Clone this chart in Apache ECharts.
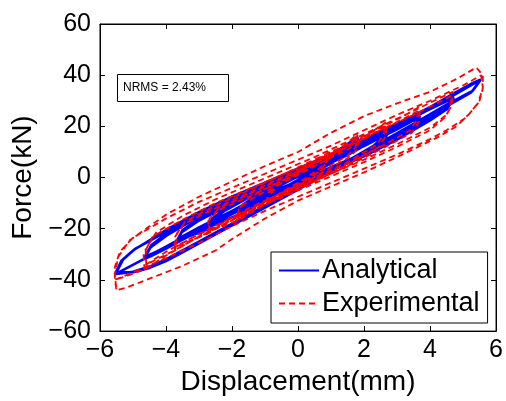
<!DOCTYPE html>
<html>
<head>
<meta charset="utf-8">
<script src="https://cdn.jsdelivr.net/npm/echarts@6/dist/echarts.min.js"></script>
<style>
html,body{margin:0;padding:0;background:#fff;}
#chart{width:506px;height:401px;}
</style>
</head>
<body>
<div id="chart"></div>
<script>
// ---- data (displacement mm, force kN) ----
var xTicks = [-6, -4, -2, 0, 2, 4, 6];
var yTicks = [-60, -40, -20, 0, 20, 40, 60];
var nrmsText = 'NRMS = 2.43%';

// Analytical loops (two cycles per amplitude)
var anLoop1 = [[-0.9,-7],[-0.8,-5.2],[-0.5,-2.6],[0,0.8],[0.4,3.8],[0.7,6.2],[0.85,7.8],
  [0.75,5.6],[0.4,2.4],[0,-1.2],[-0.4,-4.0],[-0.7,-5.9],[-0.9,-7]];
var anLoop1b = [[-0.92,-7.5],[-0.82,-5.5],[-0.5,-2.9],[0,0.5],[0.4,3.5],[0.7,6.0],[0.88,8.2],
  [0.78,5.9],[0.4,2.7],[0,-0.9],[-0.4,-3.7],[-0.72,-6.2],[-0.92,-7.5]];
var anLoop2 = [[-1.78,-13.5],[-1.65,-10.5],[-1.2,-6.5],[-0.5,-1.5],[0,1.8],[0.6,5.8],[1.2,10.5],[1.6,14],[1.8,16],
  [1.68,12.5],[1.3,8.5],[0.6,3.2],[0,-1.5],[-0.6,-5.5],[-1.2,-9.5],[-1.6,-12.3],[-1.78,-13.5]];
var anLoop2b = [[-1.8,-14.5],[-1.68,-11.3],[-1.2,-7.2],[-0.5,-2.2],[0,1.2],[0.6,5.2],[1.2,10],[1.6,13.5],[1.82,15.5],
  [1.7,12],[1.3,8],[0.6,2.6],[0,-2.2],[-0.6,-6.2],[-1.2,-10.3],[-1.6,-13.2],[-1.8,-14.5]];
var anLoop3 = [[-2.73,-19.5],[-2.6,-16],[-2.2,-12],[-1.5,-7],[-0.5,-1.5],[0.5,3.5],[1.5,9.5],[2.2,14.5],[2.6,18],[2.77,20],
  [2.65,16.5],[2.3,12.5],[1.5,6.5],[0.5,1],[-0.5,-4],[-1.5,-9.5],[-2.2,-14.5],[-2.6,-18],[-2.73,-19.5]];
var anLoop3b = [[-2.75,-20.3],[-2.62,-16.8],[-2.2,-12.8],[-1.5,-7.8],[-0.5,-2.2],[0.5,2.8],[1.5,8.8],[2.2,13.8],[2.6,17.3],[2.78,19.3],
  [2.66,15.8],[2.3,11.8],[1.5,5.8],[0.5,0.3],[-0.5,-4.8],[-1.5,-10.3],[-2.2,-15.3],[-2.6,-18.8],[-2.75,-20.3]];
var anLoop4 = [[-3.67,-24.7],[-3.5,-20.5],[-3.0,-16],[-2,-9.5],[-1,-4],[0,1.5],[1,7],[2,13],[3,19.5],[3.5,23],[3.67,24.7],
  [3.5,20.5],[3.0,16],[2,9.5],[1,4],[0,-1.5],[-1,-7],[-2,-13],[-3,-19.5],[-3.5,-23],[-3.67,-24.7]];
var anLoop4b = [[-3.7,-25.5],[-3.52,-21.3],[-3.0,-16.8],[-2,-10.2],[-1,-4.7],[0,0.8],[1,6.3],[2,12.3],[3,18.8],[3.5,22.3],[3.7,24],
  [3.52,19.8],[3.0,15.3],[2,8.8],[1,3.3],[0,-2.2],[-1,-7.8],[-2,-13.8],[-3,-20.3],[-3.5,-23.8],[-3.7,-25.5]];
var anLoop5 = [[-4.64,-31],[-4.45,-26.5],[-4,-22],[-3,-14.5],[-2,-8.5],[-1,-3],[0,2.5],[1,8],[2,14],[3,20.5],[4,27.5],[4.5,30.5],[4.7,32],
  [4.5,27.5],[4,23],[3,15.5],[2,9],[1,3.5],[0,-2],[-1,-7.5],[-2,-13.5],[-3,-20],[-4,-27],[-4.45,-30],[-4.64,-31]];
var anLoop5b = [[-4.66,-31.8],[-4.47,-27.3],[-4,-22.8],[-3,-15.2],[-2,-9.2],[-1,-3.7],[0,1.8],[1,7.3],[2,13.3],[3,19.8],[4,26.8],[4.5,29.8],[4.72,31.3],
  [4.52,26.8],[4,22.3],[3,14.8],[2,8.3],[1,2.8],[0,-2.7],[-1,-8.3],[-2,-14.3],[-3,-20.8],[-4,-27.8],[-4.47,-30.8],[-4.66,-31.8]];
var anLoop6 = [[-5.55,-37.8],[-5.35,-32.5],[-5,-28.5],[-4,-20.5],[-3,-13.5],[-2,-7.5],[-1,-2],[0,3.5],[1,9],[2,15],[3,21],[4,27.5],[4.8,33.5],[5.3,37],[5.54,38.3],
  [5.3,34],[4.5,28.5],[3.5,21],[2.4,13],[1,3],[0,-4],[-1,-11],[-2,-18],[-3,-25],[-3.5,-28.5],[-4,-32],[-4.5,-34.8],[-5,-36.8],[-5.55,-37.8]];
var anLoop6b = [[-5.5,-37],[-5.3,-32],[-4.95,-28],[-4,-21.2],[-3,-14.2],[-2,-8.2],[-1,-2.7],[0,2.8],[1,8.3],[2,14.3],[3,20.3],[4,26.8],[4.8,32.8],[5.3,36.5],[5.5,37.6],
  [5.25,33.3],[4.5,27.8],[3.5,20.3],[2.4,12.3],[1,2.3],[0,-4.7],[-1,-11.7],[-2,-18.7],[-3,-25.7],[-3.5,-29.2],[-4,-32.6],[-4.5,-35.3],[-5,-37],[-5.5,-37]];

// Experimental loops
var exLoop1 = [[-0.9,-10],[-0.85,-6.5],[-0.6,-3],[-0.2,0.5],[0.2,3.5],[0.6,6.5],[0.9,9],
  [0.85,5.5],[0.6,2],[0.2,-1.5],[-0.2,-4.5],[-0.6,-7.5],[-0.9,-10]];
var exLoop1b = [[-0.95,-9],[-0.9,-6],[-0.6,-2.5],[-0.2,1],[0.2,4],[0.6,7],[0.95,10],
  [0.9,6.5],[0.6,3],[0.2,-0.5],[-0.2,-3.5],[-0.6,-6.5],[-0.95,-9]];
var exLoop2 = [[-1.8,-16],[-1.75,-11.5],[-1.5,-8],[-1,-4.5],[0,2],[0.8,7.5],[1.4,12.5],[1.8,17],
  [1.75,12],[1.5,8.5],[1,5],[0,-2.5],[-0.8,-8],[-1.4,-12.5],[-1.8,-16]];
var exLoop2b = [[-1.85,-17],[-1.8,-12.5],[-1.5,-9],[-1,-5.5],[0,1],[0.8,6.5],[1.4,11.5],[1.85,16],
  [1.8,11],[1.5,7.5],[1,4],[0,-3.5],[-0.8,-9],[-1.4,-13.5],[-1.85,-17]];
var exLoop3 = [[-2.7,-21],[-2.68,-16],[-2.4,-12],[-1.5,-6.5],[-0.5,-0.5],[0.5,5.5],[1.5,12],[2.2,17.5],[2.65,21.5],
  [2.6,17],[2.4,13],[1.5,6],[0.5,0],[-0.5,-6],[-1.5,-12],[-2.2,-17],[-2.7,-21]];
var exLoop3b = [[-2.75,-22],[-2.72,-17],[-2.45,-13],[-1.5,-7.5],[-0.5,-1.5],[0.5,4.5],[1.5,11],[2.2,16.5],[2.7,20.5],
  [2.65,16],[2.45,12],[1.5,5],[0.5,-1],[-0.5,-7],[-1.5,-13],[-2.2,-18],[-2.75,-22]];
var exLoop4 = [[-3.7,-27],[-3.68,-22],[-3.4,-17],[-2.5,-11],[-1.5,-5],[-0.5,1],[0.5,7],[1.5,13],[2.5,19.5],[3.2,24],[3.65,27.5],
  [3.6,22.5],[3.4,18.5],[2.5,12],[1.5,5.5],[0.5,-0.5],[-0.5,-6.5],[-1.5,-12.5],[-2.5,-19],[-3.2,-23.5],[-3.7,-27]];
var exLoop4b = [[-3.75,-28.5],[-3.72,-23],[-3.45,-18],[-2.5,-12],[-1.5,-6],[-0.5,0],[0.5,6],[1.5,12],[2.5,18.5],[3.2,23],[3.7,26.5],
  [3.65,21.5],[3.45,17.5],[2.5,11],[1.5,4.5],[0.5,-1.5],[-0.5,-7.5],[-1.5,-13.5],[-2.5,-20],[-3.2,-24.5],[-3.75,-28.5]];
var exLoop5 = [[-4.6,-34],[-4.62,-28],[-4.3,-21.5],[-3.5,-15],[-2.5,-8.5],[-1.5,-3],[-0.5,2.5],[0.5,8],[1.5,14],[2.5,20],[3.5,26],[4.2,30.5],[4.7,33.5],
  [4.65,28],[4.5,24.5],[4,19.5],[3,13],[2,7],[1,1.5],[0,-4],[-1,-9.5],[-2,-15.5],[-3,-22],[-4,-29],[-4.6,-34]];
var exLoop5b = [[-4.65,-36],[-4.68,-30],[-4.4,-23],[-3.5,-16.5],[-2.5,-10],[-1.5,-4.5],[-0.5,1],[0.5,6.5],[1.5,12.5],[2.5,18.5],[3.5,24.5],[4.2,29],[4.65,32],
  [4.6,27],[4.45,23.5],[4,18.5],[3,12],[2,6],[1,0.5],[0,-5],[-1,-10.5],[-2,-16.5],[-3,-23],[-4,-30.5],[-4.65,-36]];
var exLoop6a = [[-5.55,-40],[-5.55,-35],[-5.4,-29],[-5,-23.5],[-4,-16],[-3,-9.5],[-2,-4],[-1,1.5],[0,7],[1,12.5],[2,18.5],[3,24.5],[4,30],[5,36],[5.55,40],
  [5.6,35],[5.45,29],[5.1,23.5],[4.5,18.5],[4,15],[3,9],[2,3.5],[1,-2],[0,-7.5],[-1,-13],[-2,-19],[-3,-25.5],[-4,-31.5],[-5,-37],[-5.55,-40]];
var exLoop6b = [[-5.5,-44],[-5.55,-38],[-5.45,-31],[-5.1,-24.5],[-4.5,-19],[-4,-14.5],[-3,-7.5],[-2,-1.5],[-1,4.5],[0,10],[1,17.5],[2,24],[3,29],[4,33.5],[4.8,38.5],[5.4,43],
  [5.6,40],[5.6,35],[5.5,30],[5.2,25],[4.8,20],[4.2,15.5],[3,8],[2,2],[1,-3.5],[0,-9],[-1,-16],[-2,-24],[-2.5,-28.5],[-3.5,-34.5],[-4.5,-39.5],[-5.2,-43],[-5.5,-44]];

var analytical = [].concat(anLoop1, anLoop1b, anLoop2, anLoop2b, anLoop3, anLoop3b,
  anLoop4, anLoop4b, anLoop5, anLoop5b, anLoop6, anLoop6b);
var experimental = [].concat(exLoop1, exLoop1b, exLoop2, exLoop2b, exLoop3, exLoop3b,
  exLoop4, exLoop4b, exLoop5, exLoop5b, exLoop6a, exLoop6b);

var FONT = '"Liberation Sans", Arial, Helvetica, sans-serif';
function minus(v){ return String(v).replace('-', '\u2212'); }

var chart = echarts.init(document.getElementById('chart'), null, {renderer:'canvas'});
var axisCommon = {
  type:'value',
  splitLine:{show:false},
  axisLine:{show:true, onZero:false, lineStyle:{color:'#000', width:1}},
  axisTick:{show:true, inside:true, length:5, lineStyle:{color:'#000'}}
};
chart.setOption({
  animation:false,
  backgroundColor:'#fff',
  grid:{left:100, right:9, top:24, bottom:68, show:true, borderColor:'#000', borderWidth:1, containLabel:false},
  xAxis:[
    Object.assign({}, axisCommon, {
      min:xTicks[0], max:xTicks[xTicks.length-1], interval:xTicks[1]-xTicks[0], position:'bottom',
      name:'Displacement(mm)', nameLocation:'middle', nameGap:34,
      nameTextStyle:{fontFamily:FONT, fontSize:28, color:'#000'},
      axisLabel:{fontFamily:FONT, fontSize:25, color:'#000', margin:7, formatter:minus}
    }),
    Object.assign({}, axisCommon, {
      min:xTicks[0], max:xTicks[xTicks.length-1], interval:xTicks[1]-xTicks[0], position:'top',
      axisLabel:{show:false}
    })
  ],
  yAxis:[
    Object.assign({}, axisCommon, {
      min:yTicks[0], max:yTicks[yTicks.length-1], interval:yTicks[1]-yTicks[0], position:'left',
      name:'Force(kN)', nameLocation:'middle', nameGap:60,
      nameTextStyle:{fontFamily:FONT, fontSize:28, color:'#000'},
      axisLabel:{fontFamily:FONT, fontSize:25, color:'#000', margin:9, formatter:minus}
    }),
    Object.assign({}, axisCommon, {
      min:yTicks[0], max:yTicks[yTicks.length-1], interval:yTicks[1]-yTicks[0], position:'right',
      axisLabel:{show:false}
    })
  ],
  legend:{
    orient:'vertical', left:271, top:252,
    backgroundColor:'#fff', borderColor:'#000', borderWidth:1,
    padding:[5,8,6,7], itemGap:6, itemWidth:40, itemHeight:14,
    itemStyle:{opacity:0},
    textStyle:{fontFamily:FONT, fontSize:27, color:'#000', padding:[0,0,0,-2]},
    data:['Analytical','Experimental']
  },
  series:[
    {name:'Analytical', type:'line', data:analytical, symbol:'none', showSymbol:false,
      lineStyle:{color:'#0000ff', width:2.6}, itemStyle:{color:'#0000ff'}, z:2},
    {name:'Experimental', type:'line', data:experimental, symbol:'none', showSymbol:false,
      lineStyle:{color:'#ff0000', width:1.8, type:[6,4]}, itemStyle:{color:'#ff0000'}, z:3}
  ],
  graphic:[
    {type:'rect', shape:{x:117.5, y:74.5, width:111, height:27},
      style:{fill:'#fff', stroke:'#000', lineWidth:1}, z:10},
    {type:'text', x:123, y:88, style:{text:nrmsText, fontFamily:FONT, fontSize:12, fill:'#000', textVerticalAlign:'middle'}, z:11}
  ]
});
</script>
</body>
</html>
